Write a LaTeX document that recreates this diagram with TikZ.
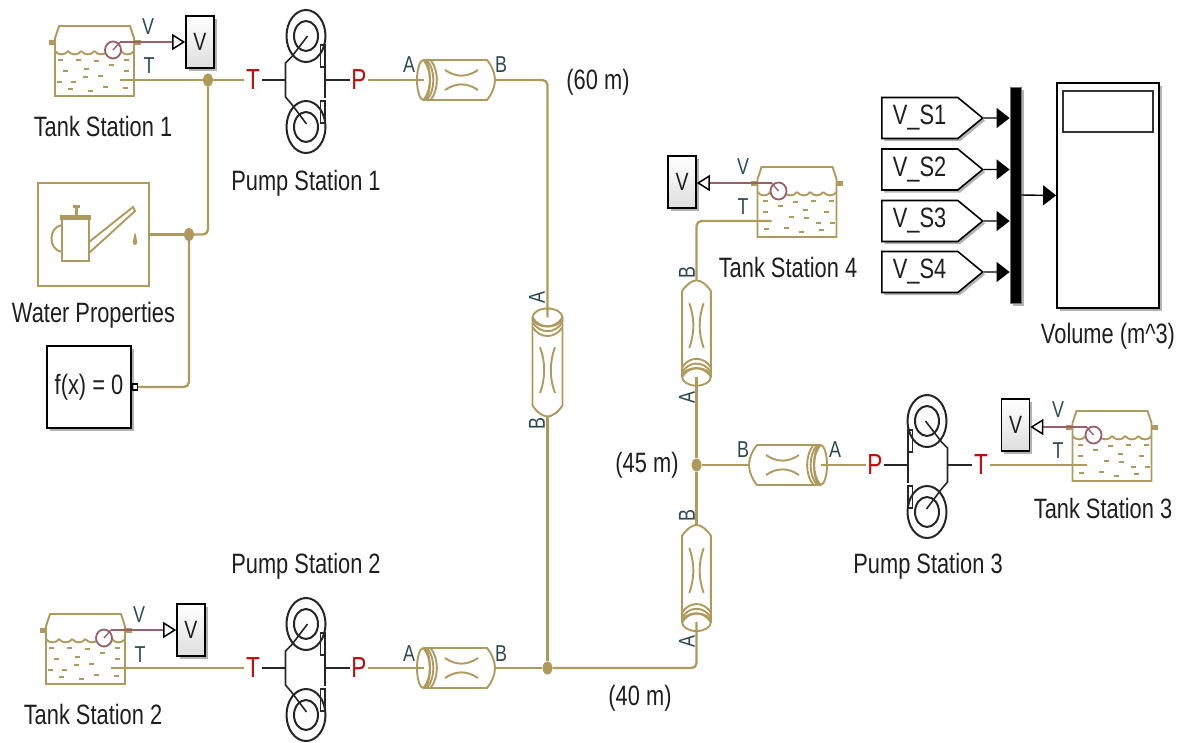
\documentclass[tikz,border=0pt]{standalone}
\usepackage{fontspec}
\setmainfont[FakeStretch=0.78]{Liberation Sans}
\usepackage{xcolor}
\usetikzlibrary{positioning, arrows.meta, shapes.geometric, shapes.symbols, shadows}
\definecolor{goldLine}{HTML}{AE9A5C}
\definecolor{portText}{HTML}{2B4A50}
\definecolor{bodyText}{HTML}{1E1E1E}
\definecolor{sensorLine}{HTML}{9A5F68}
\definecolor{portRed}{HTML}{C00A0A}

\begin{document}
\begin{tikzpicture}[
  x=1pt, y=-1pt,
  every node/.style={text=bodyText},
  blocklabel/.style={font=\fontsize{28}{30}\selectfont, inner sep=0pt},
  portname/.style={font=\fontsize{23}{25}\selectfont, text=portText, inner sep=0pt},
  portmark/.style={font=\fontsize{29}{31}\selectfont, text=portRed, inner sep=1.5pt},
  pipeline/.style={draw=goldLine, line width=2.3pt, rounded corners=5pt},
  thinGold/.style={draw=goldLine, line width=1.9pt},
  mech/.style={draw=black!85, line width=1.6pt},
  jn/.style={ellipse, fill=goldLine, minimum width=10pt, minimum height=13pt, inner sep=0pt},
  softshadow/.style={drop shadow={shadow xshift=2.5pt, shadow yshift=-2.5pt, opacity=0.3, fill=black}},
  vbox/.style={rectangle, draw=black, line width=1.6pt, top color=white, bottom color=black!13,
               minimum width=28pt, minimum height=52pt, inner sep=0pt, softshadow,
               font=\fontsize{25}{27}\selectfont},
  gotobox/.style={signal, signal to=east, signal pointer angle=79, draw=black, line width=1.6pt,
                  fill=white, minimum height=41pt, text width=54pt, inner xsep=11pt, inner ysep=0pt,
                  align=left, softshadow, font=\fontsize{28}{30}\selectfont},
  sensor/.style={draw=sensorLine, line width=1.8pt,
                 -{Triangle[open, color=black, length=13pt, width=16pt, line width=1.5pt]}},
  sigline/.style={draw=black, line width=1.4pt, -{Triangle[length=13pt, width=20pt]}},
  tank/.pic={
    \draw[thinGold] (-39.5,16) -- (-39.5,-42) -- (-35.5,-54) -- (35.5,-54) -- (39.5,-42) -- (39.5,16) -- cycle;
    \fill[goldLine] (-46,-40.5) rectangle (-39.5,-35.5);
    \fill[goldLine] (39.5,-40.5) rectangle (46,-35.5);
    \foreach \wx in {-39.5,-26.4,-13.2,0,13.2,26.4}
      \draw[thinGold] (\wx,-29) .. controls (\wx+3,-24.5) and (\wx+10,-24.5) .. (\wx+13.2,-29);
    \foreach \dx/\dy in {-34.5/-20, -16/-20, 2/-19, 17/-15, 32/-20, -29.5/-9, -8/-11, 32/-9,
                         6/-4, -9.5/-3, -35/2, -21/2, 11/7, 30.5/8, -24/9, -4.5/11}
      \draw[goldLine, line width=2.4pt] (\dx-2.5,\dy) -- (\dx+2.5,\dy);
    \draw[sensorLine, line width=1.8pt, fill=white] (18.5,-30) circle [x radius=8pt, y radius=8.5pt];
    \draw[sensorLine, line width=1.4pt] (18.5,-30) -- (25.5,-38);
    \coordinate (-t) at (25.5,0);
    \coordinate (-v) at (25.5,-38);
  },
  pump/.pic={
    \draw[mech, line width=2pt] (0.5,-44) circle [x radius=19.5pt, y radius=26pt];
    \draw[mech, line width=2pt] (0.5,-44) circle [x radius=12pt, y radius=15pt];
    \draw[mech, line width=2pt] (0.5,47) circle [x radius=19.5pt, y radius=26pt];
    \draw[mech, line width=2pt] (0.5,47) circle [x radius=12pt, y radius=15pt];
    \draw[mech] (2,-44) -- (-14,-23) -- (-20,-17) -- (-20,17) -- (-14,24) -- (1,44);
    \draw[mech] (19.5,-13) -- (19.5,18);
    \draw[mech] (15,-35) rectangle (19.5,-13);
    \draw[mech] (15,21) rectangle (19.5,43);
    \coordinate (-t) at (-20,0);
    \coordinate (-p) at (19.5,0);
  },
  pipe/.pic={
    \draw[thinGold] (-32.5,-20) -- (31,-20) .. controls (36,-14) and (39,-6) .. (39,0)
      .. controls (39,6) and (36,14) .. (31,20) -- (-32.5,20);
    \draw[thinGold] (-32.5,0) circle [x radius=6.5pt, y radius=20pt];
    \foreach \rb in {-32.5,-29,-25.5}
      \draw[thinGold] (\rb,-20) .. controls (\rb+8.5,-10) and (\rb+8.5,10) .. (\rb,20);
    \draw[thinGold] (-11,-10) .. controls (0,-2.5) and (11,-2.5) .. (22,-10);
    \draw[thinGold] (-11,10) .. controls (0,2.5) and (11,2.5) .. (22,10);
    \coordinate (-a) at (-32.5,0);
    \coordinate (-b) at (39,0);
  },
]
  \useasboundingbox (0,0) rectangle (1188,742);

  % tanks and pumps
  \pic (ts1) at (94.5,80) {tank};
  \pic (ts2) at (85.5,668) {tank};
  \pic[xscale=-1] (ts3) at (1112,465) {tank};
  \pic[xscale=-1] (ts4) at (797,221) {tank};
  \pic (ps1) at (305.5,80) {pump};
  \pic (ps2) at (305.5,668) {pump};
  \pic[xscale=-1] (ps3) at (927.5,465) {pump};

  % pipes
  \pic (pp1) at (456,80) {pipe};
  \pic (pp2) at (456,668) {pipe};
  \pic[xscale=-1] (pp3) at (788,465) {pipe};
  \pic[rotate=-90, xscale=1.385, yscale=0.75] (pv1) at (547.5,362.5) {pipe};
  \pic[rotate=90, xscale=1.35, yscale=0.72] (pv2) at (696.5,333) {pipe};
  \pic[rotate=90, xscale=1.36, yscale=0.72] (pv3) at (696.5,578) {pipe};

  % water block
  \node[rectangle, draw=goldLine, line width=2pt, minimum width=111pt, minimum height=103pt] (wp) at (93.5,234.5) {};
  \draw[thinGold] (62,219) rectangle (89,261);
  \fill[goldLine] (60,215) rectangle (91,220);
  \fill[goldLine] (72.5,205) rectangle (79.5,208);
  \fill[goldLine] (74.5,208) rectangle (77.5,215);
  \draw[thinGold] (62,225) .. controls (48,227) and (48,250) .. (62,252);
  \draw[thinGold] (89,242) -- (133,207) -- (135,211) -- (89,253);
  \fill[goldLine] (135,232) .. controls (137,240) and (138.5,245) .. (135,245)
    .. controls (131.5,245) and (133,240) .. (135,232);
  \node[blocklabel, below=15pt of wp] (wplabel) {Water Properties};

  \node[rectangle, draw=black, line width=2pt, fill=white, minimum width=84pt, minimum height=82pt,
        inner sep=0pt, softshadow, font=\fontsize{28}{30}\selectfont] (solver) at (89,387) {f(x) = 0};
  \node[rectangle, draw=black, line width=1.2pt, minimum width=5pt, minimum height=6pt, inner sep=0pt,
        right=0pt of solver] (solverport) {};

  % junctions
  \node[jn] (jn1) at (208,80) {};
  \node[jn] (jn2) at (189,234.5) {};
  \node[jn] (jn3) at (547.5,668) {};
  \node[jn] (jn4) at (696.5,465) {};

  % port marks
  \node[portmark] (tm1) at (253,80) {T};
  \node[portmark] (pm1) at (359,80) {P};
  \node[portmark] (tm2) at (253,668) {T};
  \node[portmark] (pm2) at (359,668) {P};
  \node[portmark] (pm3) at (875,465) {P};
  \node[portmark] (tm3) at (981,465) {T};

  % sensor blocks
  \node[vbox] (vb1) at (200,42) {V};
  \node[vbox] (vb2) at (191,630) {V};
  \node[vbox] (vb3) at (1015.5,425) {V};
  \node[vbox] (vb4) at (682,182) {V};
  \draw[sensor] (ts1-v) -- (vb1.west |- ts1-v);
  \draw[sensor] (ts2-v) -- (vb2.west |- ts2-v);
  \draw[sensor] (ts3-v) -- (vb3.east |- ts3-v);
  \draw[sensor] (ts4-v) -- (vb4.east |- ts4-v);

  % fluid network
  \draw[pipeline] (ts1-t) -- (jn1);
  \draw[pipeline] (jn1) -- (tm1);
  \draw[mech] (tm1) -- (ps1-t);
  \draw[mech] (ps1-p) -- (pm1);
  \draw[pipeline] (pm1) -- (pp1-a);
  \draw[pipeline] (wp) -- (jn2);
  \draw[pipeline] (jn2) -| (jn1);
  \draw[pipeline] (solverport) -| (jn2);
  \draw[pipeline] (pp1-b) -| (pv1-a);
  \draw[pipeline] (pv1-b) -- (jn3);
  \draw[pipeline] (ts2-t) -- (tm2);
  \draw[mech] (tm2) -- (ps2-t);
  \draw[mech] (ps2-p) -- (pm2);
  \draw[pipeline] (pm2) -- (pp2-a);
  \draw[pipeline] (pp2-b) -- (jn3);
  \draw[pipeline] (jn3) -| (pv3-a);
  \draw[pipeline] (pv3-b) -- (jn4);
  \draw[pipeline] (pv2-a) -- (jn4);
  \draw[pipeline] (ts4-t) -| (pv2-b);
  \draw[pipeline] (jn4) -- (pp3-b);
  \draw[pipeline] (pp3-a) -- (pm3);
  \draw[mech] (pm3) -- (ps3-p);
  \draw[mech] (ps3-t) -- (tm3);
  \draw[pipeline] (tm3) -- (ts3-t);

  % scope side
  \node[rectangle, draw=black!55, line width=0.8pt, fill=black, minimum width=11pt, minimum height=216pt, inner sep=0pt, softshadow] (bus) at (1015.5,195) {};
  \node[rectangle, draw=black, line width=1.8pt, fill=white, minimum width=102pt, minimum height=225pt,
        inner sep=0pt, softshadow] (scp) at (1108,195.5) {};
  \node[rectangle, draw=black!80, line width=1.4pt, minimum width=90pt, minimum height=41pt, inner sep=0pt] (scpdisp) at (1108,111.5) {};
  \node[gotobox, anchor=west] (gt1) at (881,118) {V\_S1};
  \node[gotobox, anchor=west] (gt2) at (881,169.5) {V\_S2};
  \node[gotobox, anchor=west] (gt3) at (881,221) {V\_S3};
  \node[gotobox, anchor=west] (gt4) at (881,272) {V\_S4};
  \draw[sigline] (gt1) -- (bus.west |- gt1);
  \draw[sigline] (gt2) -- (bus.west |- gt2);
  \draw[sigline] (gt3) -- (bus.west |- gt3);
  \draw[sigline] (gt4) -- (bus.west |- gt4);
  \draw[sigline] (bus.east) -- (scp.west);

  % texts
  \node[blocklabel] (ts1label) at (103,126) {Tank Station 1};
  \node[blocklabel] (ts2label) at (93,714) {Tank Station 2};
  \node[blocklabel] (ts3label) at (1103,508) {Tank Station 3};
  \node[blocklabel] (ts4label) at (788,267) {Tank Station 4};
  \node[blocklabel] (ps1label) at (306,183) {Pump Station 1};
  \node[blocklabel] (ps2label) at (306,566) {Pump Station 2};
  \node[blocklabel] (ps3label) at (928,566) {Pump Station 3};
  \node[blocklabel, below=14pt of scp] (scplabel) {Volume (m\^{}3)};
  \node[blocklabel] (len1) at (598,82) {(60 m)};
  \node[blocklabel] (len2) at (647,465) {(45 m)};
  \node[blocklabel] (len3) at (640,698) {(40 m)};

  \node[portname] (nv1) at (148,27) {V};
  \node[portname] (nt1) at (149,66) {T};
  \node[portname] (nv2) at (139,615) {V};
  \node[portname] (nt2) at (140,655) {T};
  \node[portname] (nv3) at (1058,410) {V};
  \node[portname] (nt3) at (1058,451) {T};
  \node[portname] (nv4) at (743,167) {V};
  \node[portname] (nt4) at (743,207) {T};
  \node[portname] (na1) at (409,65) {A};
  \node[portname] (nb1) at (501,65) {B};
  \node[portname] (na2) at (409,654) {A};
  \node[portname] (nb2) at (501,654) {B};
  \node[portname] (na3) at (835,450) {A};
  \node[portname] (nb3) at (743,450) {B};
  \node[portname, rotate=90] (na4) at (537,298) {A};
  \node[portname, rotate=90] (nb4) at (537,424) {B};
  \node[portname, rotate=90] (na5) at (687,398) {A};
  \node[portname, rotate=90] (nb5) at (687,273) {B};
  \node[portname, rotate=90] (na6) at (687,642) {A};
  \node[portname, rotate=90] (nb6) at (687,516) {B};
\end{tikzpicture}
\end{document}
